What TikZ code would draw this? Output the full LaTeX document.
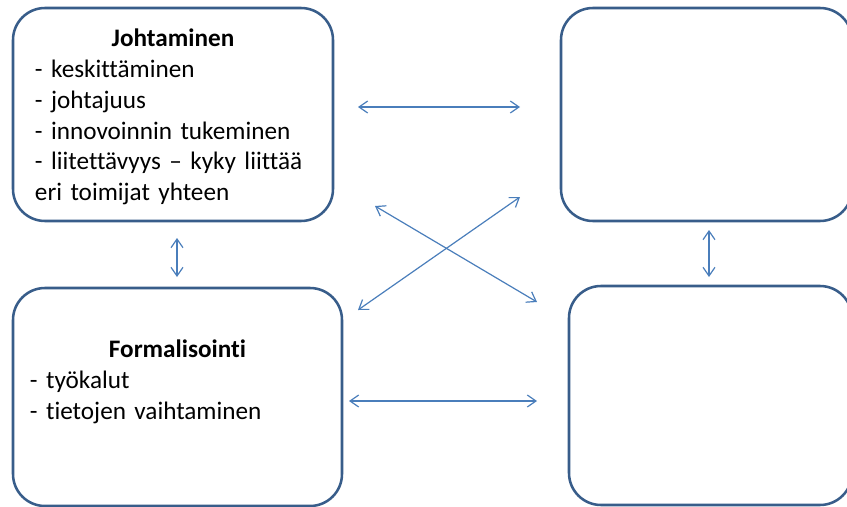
\documentclass[tikz,border=0pt]{standalone}
\usepackage{fontspec}
\setmainfont[Ligatures=NoCommon, WordSpace=0.8]{Carlito}
\usetikzlibrary{arrows.meta}
\definecolor{reuna}{HTML}{385D8A}
\definecolor{nuolisin}{HTML}{4A7EBB}
\tikzset{
  laatikko/.style={draw=reuna, line width=1.9pt, rounded corners=24pt, fill=white, align=left, inner ysep=0pt},
  nuoli/.style={draw=nuolisin, line width=0.9pt, {Straight Barb[length=6.5pt,width=9pt]}-{Straight Barb[length=6.5pt,width=9pt]}},
}
\begin{document}
\begin{tikzpicture}[x=0.75pt, y=-0.75pt, font=\fontsize{18.9pt}{23.1pt}\selectfont]
\useasboundingbox (0,0) rectangle (847,507);
% laatikot
\node[laatikko, minimum width=240pt, minimum height=159.75pt, text width=207pt, inner xsep=16.5pt] (joht) at (173,114.5) {\makebox[207pt]{\rule{0pt}{17pt}\textbf{Johtaminen}}\\- keskittäminen\\- johtajuus\\- innovoinnin tukeminen\\- liitettävyys – kyky liittää\\eri toimijat yhteen};
\node[laatikko, minimum width=218.25pt, minimum height=159.75pt] (ylaoik) at (706.5,114.5) {};
\node[laatikko, minimum width=246.75pt, minimum height=163.5pt, text width=221.25pt, inner xsep=12.75pt] (form) at (177.5,397) {\makebox[221.25pt]{\rule{0pt}{17pt}\textbf{Formalisointi}}\\- työkalut\\- tietojen vaihtaminen\\\strut};
\node[laatikko, minimum width=212.25pt, minimum height=164.25pt] (alaoik) at (710.5,395.5) {};
% nuolten päät
\coordinate (y1) at (358,107);
\coordinate (y2) at (520,107);
\coordinate (a1) at (349,401);
\coordinate (a2) at (537,401);
\coordinate (v1) at (177,238);
\coordinate (v2) at (177,277);
\coordinate (o1) at (709,230);
\coordinate (o2) at (709,277);
\coordinate (r1) at (375,206);
\coordinate (r2) at (537,302);
\coordinate (s1) at (358,310);
\coordinate (s2) at (520,197);
% nuolet
\draw[nuoli] (y1) -- (y2);
\draw[nuoli] (a1) -- (a2);
\draw[nuoli] (v1) -- (v2);
\draw[nuoli] (o1) -- (o2);
\draw[nuoli] (r1) -- (r2);
\draw[nuoli] (s1) -- (s2);
\end{tikzpicture}
\end{document}
